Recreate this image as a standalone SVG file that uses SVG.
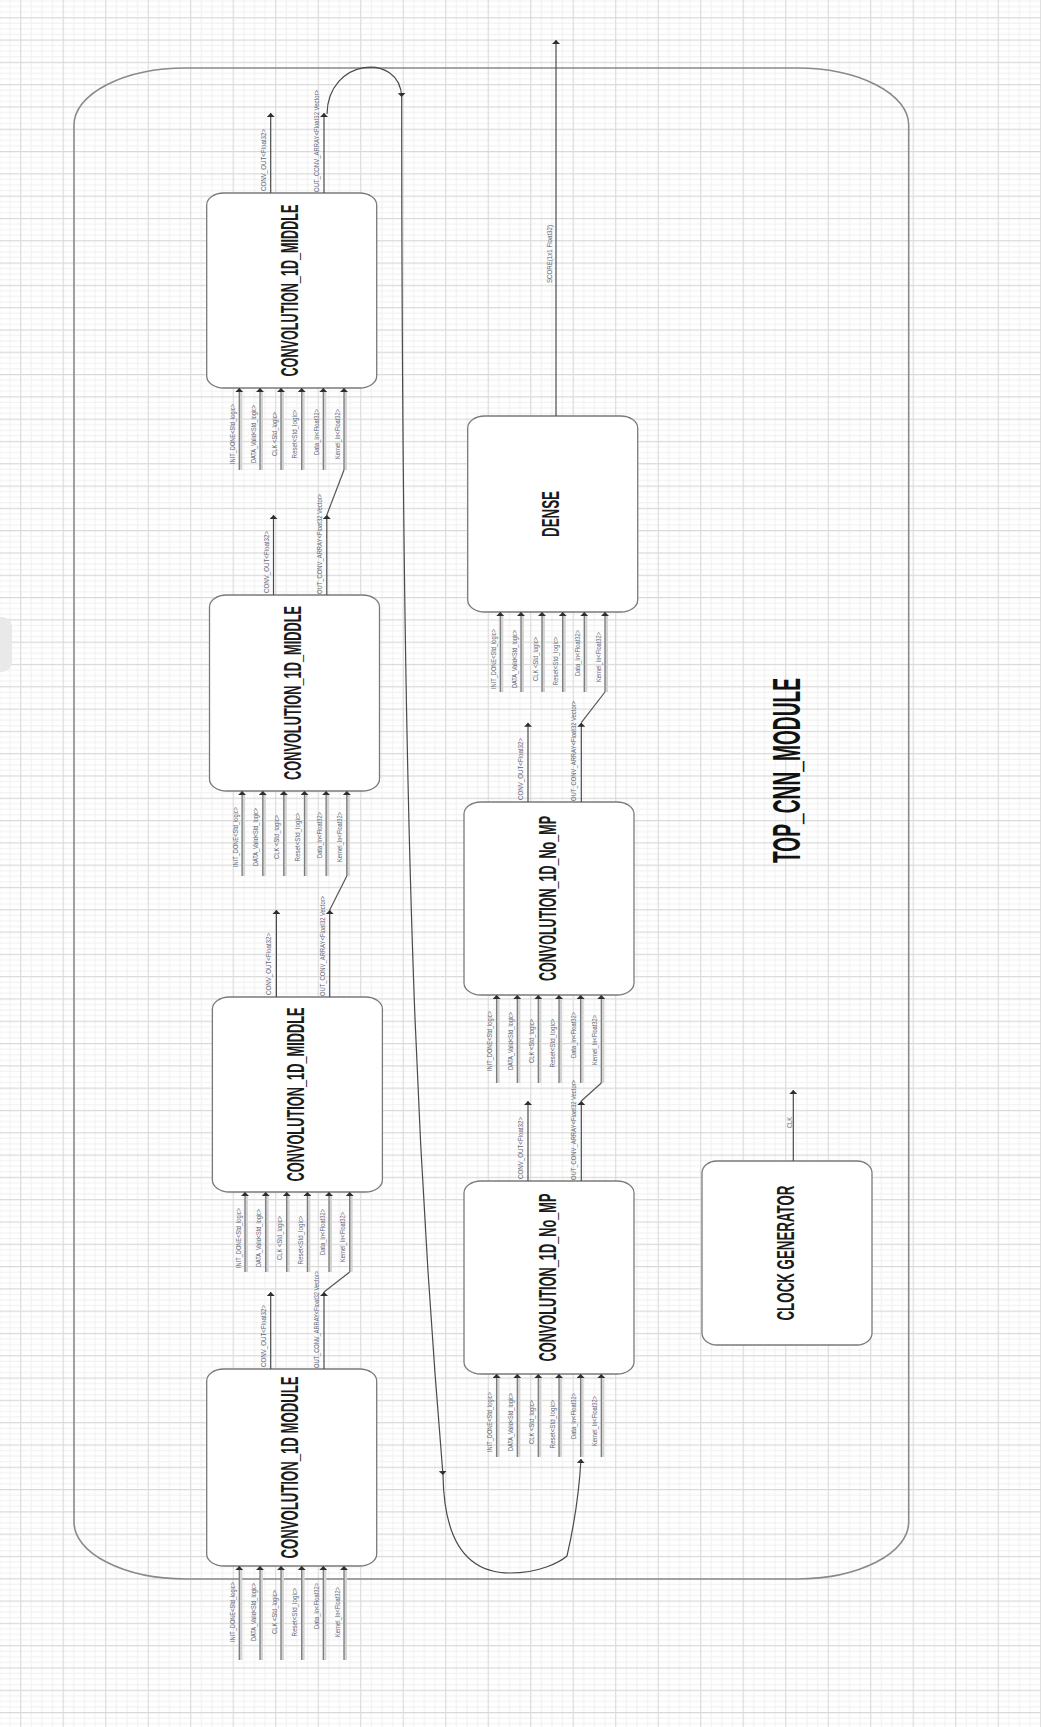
<svg xmlns="http://www.w3.org/2000/svg" width="1041" height="1727" viewBox="0 0 1041 1727">
<style>
.box{fill:#fff;stroke:#7a7a7a;stroke-width:1.3}
.frame{fill:none;stroke:#8a8a8a;stroke-width:1.6}
.band{stroke:#d4d4d4;stroke-width:3;fill:none}
.in{stroke:#7a7a7a;stroke-width:1.3;fill:none;marker-end:url(#ah)}
.out{stroke:#4a4a4a;stroke-width:1.2;fill:none;marker-end:url(#ah)}
.wire{fill:none;stroke:#555;stroke-width:1.2}
.lbl{font-family:"Liberation Sans",Arial,sans-serif;font-size:8px;fill:#5e6678}
.ttl{font-family:"Liberation Sans",Arial,sans-serif;font-size:24px;font-weight:bold;fill:#1b1b1b;text-anchor:middle}
</style>
<defs>
<pattern id="grid" patternUnits="userSpaceOnUse" x="20.2" y="17.2" width="42.5" height="22.3">
<path d="M11.1,0V22.3M21.75,0V22.3M32.4,0V22.3M0,6.1H42.5M0,11.65H42.5M0,17.2H42.5" stroke="#f0f0f0" stroke-width="1" fill="none"/>
<path d="M0.5,0V22.3M0,0.5H42.5" stroke="#d9d9d9" stroke-width="1.2" fill="none"/>
</pattern>
<marker id="ah" viewBox="0 0 4 8" refX="4" refY="4" markerWidth="4" markerHeight="8" markerUnits="userSpaceOnUse" orient="auto">
<path d="M0,0L4,4L0,8z" fill="#2e2e2e"/>
</marker>
</defs>
<rect width="1041" height="1727" fill="#fff"/>
<rect width="1041" height="1727" fill="url(#grid)"/>
<rect x="-12" y="617" width="24" height="55" rx="10" fill="#e9e9e9"/>

<g id="top_cnn_module">
<rect class="frame" x="74" y="68" width="834.7" height="1511" rx="112" ry="57"/>
<text transform="translate(800,770.5) rotate(-90)" text-anchor="middle" font-family="Liberation Sans,Arial,sans-serif" font-weight="bold" font-size="39" fill="#111" textLength="185" lengthAdjust="spacingAndGlyphs">TOP_CNN_MODULE</text>
</g>

<g id="conv_middle_1">
<rect class="box" x="206.7" y="193" width="170" height="195" rx="17" ry="12"/>
<text class="ttl" transform="translate(298.2,290.5) rotate(-90)" textLength="172" lengthAdjust="spacingAndGlyphs">CONVOLUTION_1D_MIDDLE</text>
</g>
<g id="conv_middle_2">
<rect class="box" x="209.5" y="595" width="170" height="196" rx="17" ry="12"/>
<text class="ttl" transform="translate(301,693) rotate(-90)" textLength="174" lengthAdjust="spacingAndGlyphs">CONVOLUTION_1D_MIDDLE</text>
</g>
<g id="conv_middle_3">
<rect class="box" x="212.4" y="997" width="170" height="195" rx="17" ry="12"/>
<text class="ttl" transform="translate(303.9,1094.5) rotate(-90)" textLength="174" lengthAdjust="spacingAndGlyphs">CONVOLUTION_1D_MIDDLE</text>
</g>
<g id="conv_module">
<rect class="box" x="206.7" y="1369" width="170" height="197" rx="17" ry="12"/>
<text class="ttl" transform="translate(298.2,1467.5) rotate(-90)" textLength="182" lengthAdjust="spacingAndGlyphs">CONVOLUTION_1D MODULE</text>
</g>
<g id="dense">
<rect class="box" x="467.7" y="416" width="170" height="196" rx="17" ry="12"/>
<text class="ttl" transform="translate(559.2,514) rotate(-90)" textLength="46" lengthAdjust="spacingAndGlyphs">DENSE</text>
</g>
<g id="conv_nomp_1">
<rect class="box" x="464" y="802" width="170" height="193" rx="17" ry="12"/>
<text class="ttl" transform="translate(555.5,898.5) rotate(-90)" textLength="165" lengthAdjust="spacingAndGlyphs">CONVOLUTION_1D_No_MP</text>
</g>
<g id="conv_nomp_2">
<rect class="box" x="464" y="1181" width="170" height="193" rx="17" ry="12"/>
<text class="ttl" transform="translate(555.5,1277.5) rotate(-90)" textLength="168" lengthAdjust="spacingAndGlyphs">CONVOLUTION_1D_No_MP</text>
</g>
<g id="clock_generator">
<rect class="box" x="702" y="1161" width="170" height="184" rx="15" ry="12"/>
<text class="ttl" transform="translate(794,1253) rotate(-90)" textLength="135" lengthAdjust="spacingAndGlyphs">CLOCK GENERATOR</text>
</g>

<g id="connectors">
<path class="band" d="M240.8,470V392M261.5,470V392M282.5,470V392M303.2,470V392M324.8,470V392M345.5,470V392"/>
<path class="band" d="M243.6,876V795M264.3,876V795M285.3,876V795M306,876V795M327.6,876V795M348.3,876V795"/>
<path class="band" d="M246.5,1272V1196M267.2,1272V1196M288.2,1272V1196M308.9,1272V1196M330.5,1272V1196M351.2,1272V1196"/>
<path class="band" d="M240.8,1660V1570M261.5,1660V1570M282.5,1660V1570M303.2,1660V1570M324.8,1660V1570M345.5,1660V1570"/>
<path class="band" d="M501.8,692V616M522.5,692V616M543.5,692V616M564.2,692V616M585.8,692V616M606.5,692V616"/>
<path class="band" d="M498.1,1083V999M518.8,1083V999M539.8,1083V999M560.5,1083V999M582.1,1083V999M602.8,1083V999"/>
<path class="band" d="M498.1,1457V1378M518.8,1457V1378M539.8,1457V1378M560.5,1457V1378M582.1,1457V1378M602.8,1457V1378"/>
<path class="in" d="M239.3,470V388"/><path class="in" d="M260,470V388"/><path class="in" d="M281,470V388"/><path class="in" d="M301.7,470V388"/><path class="in" d="M323.3,470V388"/><path class="in" d="M344,470V388"/>
<path class="in" d="M242.1,876V791"/><path class="in" d="M262.8,876V791"/><path class="in" d="M283.8,876V791"/><path class="in" d="M304.5,876V791"/><path class="in" d="M326.1,876V791"/><path class="in" d="M346.8,876V791"/>
<path class="in" d="M245,1272V1192"/><path class="in" d="M265.7,1272V1192"/><path class="in" d="M286.7,1272V1192"/><path class="in" d="M307.4,1272V1192"/><path class="in" d="M329,1272V1192"/><path class="in" d="M349.7,1272V1192"/>
<path class="in" d="M239.3,1660V1566"/><path class="in" d="M260,1660V1566"/><path class="in" d="M281,1660V1566"/><path class="in" d="M301.7,1660V1566"/><path class="in" d="M323.3,1660V1566"/><path class="in" d="M344,1660V1566"/>
<path class="in" d="M500.3,692V612"/><path class="in" d="M521,692V612"/><path class="in" d="M542,692V612"/><path class="in" d="M562.7,692V612"/><path class="in" d="M584.3,692V612"/><path class="in" d="M605,692V612"/>
<path class="in" d="M496.6,1083V995"/><path class="in" d="M517.3,1083V995"/><path class="in" d="M538.3,1083V995"/><path class="in" d="M559,1083V995"/><path class="in" d="M580.6,1083V995"/><path class="in" d="M601.3,1083V995"/>
<path class="in" d="M496.6,1457V1374"/><path class="in" d="M517.3,1457V1374"/><path class="in" d="M538.3,1457V1374"/><path class="in" d="M559,1457V1374"/><path class="in" d="M580.6,1457V1374"/><path class="in" d="M601.3,1457V1374"/>

<path class="out" d="M270.7,193V113"/><path class="out" d="M324,193V113"/>
<path class="out" d="M273.5,595V515"/><path class="out" d="M326.8,595V515"/>
<path class="out" d="M276.4,997V910"/><path class="out" d="M329.7,997V910"/>
<path class="out" d="M270.7,1369V1292"/><path class="out" d="M324,1369V1292"/>
<path class="out" d="M528,802V722.7"/><path class="out" d="M581.3,802V722.7"/>
<path class="out" d="M528,1181V1101"/><path class="out" d="M581.3,1181V1101"/>
<path class="out" d="M556,416V40"/>
<path class="out" d="M793.3,1161V1090"/>

<path class="wire" d="M326.8,515L344,470"/>
<path class="wire" d="M329.7,910L346.8,876"/>
<path class="wire" d="M324,1292L349.7,1272"/>
<path class="wire" d="M581.3,722.7L605,692"/>
<path class="wire" d="M581.3,1101L601.3,1083"/>

<path class="out" d="M327,114C328,58 400,52 401.7,97"/>
<path class="out" d="M401.7,97C401.7,900 420,1200 443,1475"/>
<path class="out" d="M443,1475C444,1545 470,1573 510,1573C540,1573 560,1562 567,1556C573,1530 579,1495 581,1459"/>

<g class="lbl" text-anchor="middle">
<text transform="translate(234.8,434) rotate(-90)" textLength="60" lengthAdjust="spacingAndGlyphs">INIT_DONE&lt;Std_logic&gt;</text>
<text transform="translate(255.5,434) rotate(-90)" textLength="58" lengthAdjust="spacingAndGlyphs">DATA_Valid&lt;Std_logic&gt;</text>
<text transform="translate(276.5,434) rotate(-90)" textLength="44" lengthAdjust="spacingAndGlyphs">CLK &lt;Std_logic&gt;</text>
<text transform="translate(297.2,434) rotate(-90)" textLength="49" lengthAdjust="spacingAndGlyphs">Reset&lt;Std_logic&gt;</text>
<text transform="translate(318.8,432) rotate(-90)" textLength="46" lengthAdjust="spacingAndGlyphs">Data_In&lt;Float32&gt;</text>
<text transform="translate(339.5,434) rotate(-90)" textLength="50" lengthAdjust="spacingAndGlyphs">Kernel_In&lt;Float32&gt;</text>

<text transform="translate(237.6,837) rotate(-90)" textLength="60" lengthAdjust="spacingAndGlyphs">INIT_DONE&lt;Std_logic&gt;</text>
<text transform="translate(258.3,837) rotate(-90)" textLength="58" lengthAdjust="spacingAndGlyphs">DATA_Valid&lt;Std_logic&gt;</text>
<text transform="translate(279.3,837) rotate(-90)" textLength="44" lengthAdjust="spacingAndGlyphs">CLK &lt;Std_logic&gt;</text>
<text transform="translate(300,837) rotate(-90)" textLength="49" lengthAdjust="spacingAndGlyphs">Reset&lt;Std_logic&gt;</text>
<text transform="translate(321.6,835) rotate(-90)" textLength="46" lengthAdjust="spacingAndGlyphs">Data_In&lt;Float32&gt;</text>
<text transform="translate(342.3,837) rotate(-90)" textLength="50" lengthAdjust="spacingAndGlyphs">Kernel_In&lt;Float32&gt;</text>

<text transform="translate(240.5,1238) rotate(-90)" textLength="60" lengthAdjust="spacingAndGlyphs">INIT_DONE&lt;Std_logic&gt;</text>
<text transform="translate(261.2,1238) rotate(-90)" textLength="58" lengthAdjust="spacingAndGlyphs">DATA_Valid&lt;Std_logic&gt;</text>
<text transform="translate(282.2,1238) rotate(-90)" textLength="44" lengthAdjust="spacingAndGlyphs">CLK &lt;Std_logic&gt;</text>
<text transform="translate(302.9,1240) rotate(-90)" textLength="49" lengthAdjust="spacingAndGlyphs">Reset&lt;Std_logic&gt;</text>
<text transform="translate(324.5,1232) rotate(-90)" textLength="46" lengthAdjust="spacingAndGlyphs">Data_In&lt;Float32&gt;</text>
<text transform="translate(345.2,1237) rotate(-90)" textLength="50" lengthAdjust="spacingAndGlyphs">Kernel_In&lt;Float32&gt;</text>

<text transform="translate(234.8,1612) rotate(-90)" textLength="60" lengthAdjust="spacingAndGlyphs">INIT_DONE&lt;Std_logic&gt;</text>
<text transform="translate(255.5,1612) rotate(-90)" textLength="58" lengthAdjust="spacingAndGlyphs">DATA_Valid&lt;Std_logic&gt;</text>
<text transform="translate(276.5,1612) rotate(-90)" textLength="44" lengthAdjust="spacingAndGlyphs">CLK &lt;Std_logic&gt;</text>
<text transform="translate(297.2,1612) rotate(-90)" textLength="49" lengthAdjust="spacingAndGlyphs">Reset&lt;Std_logic&gt;</text>
<text transform="translate(318.8,1606) rotate(-90)" textLength="46" lengthAdjust="spacingAndGlyphs">Data_In&lt;Float32&gt;</text>
<text transform="translate(339.5,1612) rotate(-90)" textLength="50" lengthAdjust="spacingAndGlyphs">Kernel_In&lt;Float32&gt;</text>

<text transform="translate(495.8,659) rotate(-90)" textLength="60" lengthAdjust="spacingAndGlyphs">INIT_DONE&lt;Std_logic&gt;</text>
<text transform="translate(516.5,659) rotate(-90)" textLength="58" lengthAdjust="spacingAndGlyphs">DATA_Valid&lt;Std_logic&gt;</text>
<text transform="translate(537.5,659) rotate(-90)" textLength="44" lengthAdjust="spacingAndGlyphs">CLK &lt;Std_logic&gt;</text>
<text transform="translate(558.2,661) rotate(-90)" textLength="49" lengthAdjust="spacingAndGlyphs">Reset&lt;Std_logic&gt;</text>
<text transform="translate(579.8,653) rotate(-90)" textLength="46" lengthAdjust="spacingAndGlyphs">Data_In&lt;Float32&gt;</text>
<text transform="translate(600.5,657) rotate(-90)" textLength="50" lengthAdjust="spacingAndGlyphs">Kernel_In&lt;Float32&gt;</text>

<text transform="translate(492.1,1041) rotate(-90)" textLength="60" lengthAdjust="spacingAndGlyphs">INIT_DONE&lt;Std_logic&gt;</text>
<text transform="translate(512.8,1041) rotate(-90)" textLength="58" lengthAdjust="spacingAndGlyphs">DATA_Valid&lt;Std_logic&gt;</text>
<text transform="translate(533.8,1041) rotate(-90)" textLength="44" lengthAdjust="spacingAndGlyphs">CLK &lt;Std_logic&gt;</text>
<text transform="translate(554.5,1043) rotate(-90)" textLength="49" lengthAdjust="spacingAndGlyphs">Reset&lt;Std_logic&gt;</text>
<text transform="translate(576.1,1035) rotate(-90)" textLength="46" lengthAdjust="spacingAndGlyphs">Data_In&lt;Float32&gt;</text>
<text transform="translate(596.8,1040) rotate(-90)" textLength="50" lengthAdjust="spacingAndGlyphs">Kernel_In&lt;Float32&gt;</text>

<text transform="translate(492.1,1422) rotate(-90)" textLength="60" lengthAdjust="spacingAndGlyphs">INIT_DONE&lt;Std_logic&gt;</text>
<text transform="translate(512.8,1422) rotate(-90)" textLength="58" lengthAdjust="spacingAndGlyphs">DATA_Valid&lt;Std_logic&gt;</text>
<text transform="translate(533.8,1422) rotate(-90)" textLength="44" lengthAdjust="spacingAndGlyphs">CLK &lt;Std_logic&gt;</text>
<text transform="translate(554.5,1424) rotate(-90)" textLength="49" lengthAdjust="spacingAndGlyphs">Reset&lt;Std_logic&gt;</text>
<text transform="translate(576.1,1416) rotate(-90)" textLength="46" lengthAdjust="spacingAndGlyphs">Data_In&lt;Float32&gt;</text>
<text transform="translate(596.8,1421) rotate(-90)" textLength="50" lengthAdjust="spacingAndGlyphs">Kernel_In&lt;Float32&gt;</text>
</g>

<g class="lbl" text-anchor="start">
<text transform="translate(265.7,191) rotate(-90)" textLength="62" lengthAdjust="spacingAndGlyphs">CONV_OUT&lt;Float32&gt;</text>
<text transform="translate(319,192) rotate(-90)" textLength="102" lengthAdjust="spacingAndGlyphs">OUT_CONV_ARRAY&lt;Float32 Vector&gt;</text>
<text transform="translate(268.5,593) rotate(-90)" textLength="62" lengthAdjust="spacingAndGlyphs">CONV_OUT&lt;Float32&gt;</text>
<text transform="translate(321.8,594) rotate(-90)" textLength="100" lengthAdjust="spacingAndGlyphs">OUT_CONV_ARRAY&lt;Float32 Vector&gt;</text>
<text transform="translate(271.4,995) rotate(-90)" textLength="62" lengthAdjust="spacingAndGlyphs">CONV_OUT&lt;Float32&gt;</text>
<text transform="translate(324.7,996) rotate(-90)" textLength="100" lengthAdjust="spacingAndGlyphs">OUT_CONV_ARRAY&lt;Float32 Vector&gt;</text>
<text transform="translate(265.7,1367) rotate(-90)" textLength="62" lengthAdjust="spacingAndGlyphs">CONV_OUT&lt;Float32&gt;</text>
<text transform="translate(319,1368) rotate(-90)" textLength="97" lengthAdjust="spacingAndGlyphs">OUT_CONV_ARRAY&lt;Float32 Vector&gt;</text>
<text transform="translate(523,800) rotate(-90)" textLength="62" lengthAdjust="spacingAndGlyphs">CONV_OUT&lt;Float32&gt;</text>
<text transform="translate(576.3,801) rotate(-90)" textLength="100" lengthAdjust="spacingAndGlyphs">OUT_CONV_ARRAY&lt;Float32 Vector&gt;</text>
<text transform="translate(523,1179) rotate(-90)" textLength="62" lengthAdjust="spacingAndGlyphs">CONV_OUT&lt;Float32&gt;</text>
<text transform="translate(576.3,1180) rotate(-90)" textLength="100" lengthAdjust="spacingAndGlyphs">OUT_CONV_ARRAY&lt;Float32 Vector&gt;</text>
<text transform="translate(551.5,283) rotate(-90)" textLength="58" lengthAdjust="spacingAndGlyphs">SCORE(1x1 Float32)</text>
<text transform="translate(791.5,1128) rotate(-90)" textLength="11" lengthAdjust="spacingAndGlyphs">CLK</text>
</g>
</g>
</svg>
